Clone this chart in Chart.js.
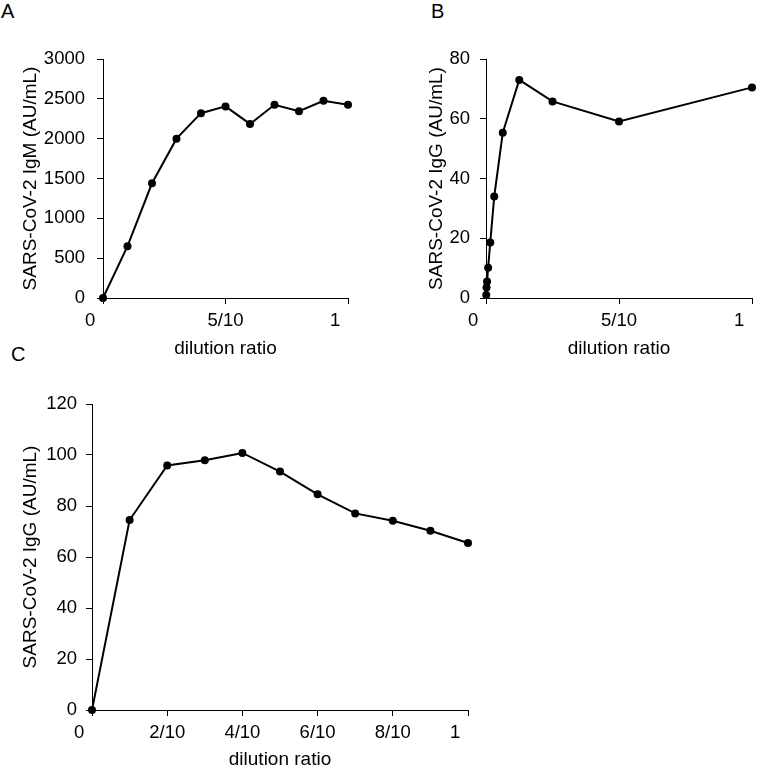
<!DOCTYPE html>
<html>
<head>
<meta charset="utf-8">
<script src="https://cdn.jsdelivr.net/npm/chart.js@4"></script>
<style>
  body { margin: 0; background: #fff; }
  #wrap { position: relative; width: 757px; height: 766px; overflow: hidden; background: #fff; }
  canvas { position: absolute; }
  .tag { position: absolute; font-family: 'Liberation Sans', Arial, sans-serif; font-size: 20px; line-height: 20px; color: #000; }
</style>
</head>
<body>
<div id="wrap">
  <div class="tag" style="left:1px; top:1px;">A</div>
  <div class="tag" style="left:431px; top:1px;">B</div>
  <div class="tag" style="left:11px; top:344px;">C</div>
  <canvas id="chartA" width="378" height="362" style="left:0; top:0;"></canvas>
  <canvas id="chartB" width="379" height="362" style="left:378px; top:0;"></canvas>
  <canvas id="chartC" width="500" height="404" style="left:0; top:362px;"></canvas>
</div>
<script>
// data panel A (IgM)
const dilutionA = [0, 0.1, 0.2, 0.3, 0.4, 0.5, 0.6, 0.7, 0.8, 0.9, 1.0];
const igmA = [0, 650, 1440, 2000, 2320, 2405, 2185, 2425, 2345, 2475, 2425];
const xTicksA = [0, 0.5, 1];
const xLabelsA = ['0     ', '5/10', '1     '];

// data panel B (IgG)
const dilutionB = [0.001, 0.002, 0.004, 0.008, 0.016, 0.031, 0.063, 0.125, 0.25, 0.5, 1.0];
const iggB = [1.0, 3.5, 5.5, 10.1, 18.6, 34.0, 55.3, 73.0, 65.8, 59.1, 70.5];
const xTicksB = [0, 0.5, 1];
const xLabelsB = ['0     ', '5/10', '1     '];

// data panel C (IgG)
const dilutionC = [0, 0.1, 0.2, 0.3, 0.4, 0.5, 0.6, 0.7, 0.8, 0.9, 1.0];
const iggC = [0, 74.5, 95.9, 97.9, 100.8, 93.5, 84.6, 77.1, 74.2, 70.3, 65.5];
const xTicksC = [0, 0.2, 0.4, 0.6, 0.8, 1];
const xLabelsC = ['0     ', '2/10', '4/10', '6/10', '8/10', '1     '];

const FONT = "'Liberation Sans', Arial, sans-serif";

function makePanel(id, p) {
  const ctx = document.getElementById(id).getContext('2d');
  return new Chart(ctx, {
    type: 'line',
    data: {
      datasets: [{
        data: p.xs.map((x, i) => ({ x: x, y: p.ys[i] })),
        borderColor: '#000',
        backgroundColor: '#000',
        borderWidth: 2,
        pointRadius: 4,
        pointBorderWidth: 0,
        tension: 0,
        clip: false
      }]
    },
    options: {
      responsive: false,
      animation: false,
      events: [],
      layout: { padding: p.pad },
      plugins: { legend: { display: false }, tooltip: { enabled: false } },
      scales: {
        x: {
          type: 'linear',
          min: 0,
          max: 1,
          border: { display: true, color: '#000', width: 1 },
          grid: { drawOnChartArea: false, drawTicks: true, tickLength: 6, color: '#000' },
          afterBuildTicks: (axis) => { axis.ticks = p.xTicks.map(v => ({ value: v })); },
          afterFit: (s) => { s.height = p.xHeight; s.paddingLeft = 0; s.paddingRight = 0; },
          ticks: {
            autoSkip: false,
            maxRotation: 0,
            padding: 6,
            color: '#000',
            font: { family: FONT, size: 18.5 },
            callback: (value, index) => p.xLabels[index]
          },
          title: {
            display: true,
            text: 'dilution ratio',
            color: '#000',
            font: { family: FONT, size: 19 },
            padding: { top: 0, bottom: p.xTitlePad }
          }
        },
        y: {
          min: 0,
          max: p.yMax,
          border: { display: true, color: '#000', width: 1 },
          grid: { drawOnChartArea: false, drawTicks: true, tickLength: 6, color: '#000' },
          afterFit: (s) => { s.width = p.yWidth; },
          ticks: {
            stepSize: p.yStep,
            padding: p.yTickPad,
            color: '#000',
            font: { family: FONT, size: 18.5 },
            callback: (value) => String(value)
          },
          title: {
            display: true,
            text: p.yTitle,
            color: '#000',
            font: { family: FONT, size: 19 },
            padding: { top: p.yTitlePad, bottom: 0 }
          }
        }
      }
    }
  });
}

makePanel('chartA', {
  xs: dilutionA, ys: igmA, xTicks: xTicksA, xLabels: xLabelsA,
  yMax: 3000, yStep: 500, yTitle: 'SARS-CoV-2 IgM (AU/mL)',
  pad: { top: 59, left: 0, right: 30, bottom: 2 },
  yWidth: 103, xHeight: 62, yTickPad: 12, yTitlePad: 19, xTitlePad: 0
});

makePanel('chartB', {
  xs: dilutionB, ys: iggB, xTicks: xTicksB, xLabels: xLabelsB,
  yMax: 80, yStep: 20, yTitle: 'SARS-CoV-2 IgG (AU/mL)',
  pad: { top: 59, left: 0, right: 5, bottom: 2 },
  yWidth: 108, xHeight: 62, yTickPad: 10, yTitlePad: 47, xTitlePad: 0
});

makePanel('chartC', {
  xs: dilutionC, ys: iggC, xTicks: xTicksC, xLabels: xLabelsC,
  yMax: 120, yStep: 20, yTitle: 'SARS-CoV-2 IgG (AU/mL)',
  pad: { top: 42, left: 0, right: 32, bottom: 0 },
  yWidth: 92, xHeight: 56, yTickPad: 9, yTitlePad: 19, xTitlePad: -5
});
</script>
</body>
</html>
